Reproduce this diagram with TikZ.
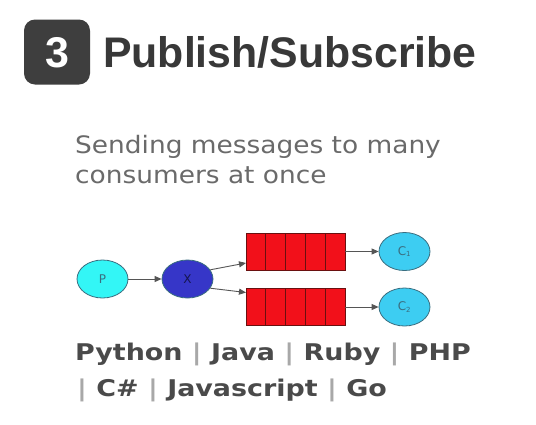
\documentclass[tikz,border=0pt]{standalone}
\usepackage{fontspec}
\setmainfont{DejaVu Sans}
\newfontfamily\titlefont{Liberation Sans}
\newfontfamily\subfont[FakeStretch=1.10]{DejaVu Sans}
\newfontfamily\langfont[FakeStretch=1.17]{DejaVu Sans Bold}
\usetikzlibrary{shapes.geometric,arrows.meta}
\definecolor{badge}{HTML}{3E3E3E}
\definecolor{titlec}{HTML}{383838}
\definecolor{subc}{HTML}{6A6A6A}
\definecolor{langc}{HTML}{4A4A4A}
\definecolor{sepc}{HTML}{A8A8A8}
\definecolor{pfill}{HTML}{33F6F6}
\definecolor{xfill}{HTML}{3636C8}
\definecolor{cfill}{HTML}{3DCDF2}
\definecolor{edgec}{HTML}{3A6E80}
\definecolor{qfill}{HTML}{F2101A}
\definecolor{qline}{HTML}{6A1010}
\definecolor{arrc}{HTML}{555555}
\tikzset{
  elnode/.style={ellipse, draw=edgec, line width=0.8pt, minimum width=51pt, minimum height=38pt, inner sep=0pt, font=\fontsize{12}{12}\selectfont, text=edgec},
  qcell/.style={draw=qline, fill=qfill, line width=1pt, minimum width=19.8pt, minimum height=37pt, inner sep=0pt, outer sep=0pt},
  conn/.style={draw=arrc, line width=0.9pt, -{Triangle[length=7pt,width=6pt]}},
  txt/.style={anchor=base west, inner sep=0pt},
}
\newcommand{\sepbar}{\textcolor{sepc}{|}}
\begin{document}
\begin{tikzpicture}[x=1pt,y=-1pt]
\useasboundingbox[fill=white] (0,0) rectangle (536,424);
% title
\node[fill=badge, rounded corners=11pt, minimum width=66pt, minimum height=65pt, inner sep=0pt] (badge) at (57,52) {};
\node[text=white, font=\titlefont\bfseries\fontsize{43}{43}\selectfont, anchor=base] (num) at (57,67.5) {3};
\node[txt, text=titlec, font=\titlefont\bfseries\fontsize{42.8}{43}\selectfont] (title) at (103,67.5) {Publish/Subscribe};
% subtitle
\node[txt, text=subc, font=\subfont\fontsize{24}{30}\selectfont] (sub1) at (75,153) {Sending messages to many};
\node[txt, text=subc, font=\subfont\fontsize{24}{30}\selectfont] (sub2) at (75,183) {consumers at once};
% diagram
\node[elnode, fill=pfill] (P) at (102.5,279) {P};
\node[elnode, fill=xfill, text=xfill!40!black] (X) at (187.5,279) {X};
\foreach \i in {1,...,5} {
  \node[qcell] (qa\i) at ({246+(\i-0.5)*19.8},251.5) {};
  \node[qcell] (qb\i) at ({246+(\i-0.5)*19.8},307) {};
}
\node[elnode, fill=cfill] (C1) at (404.5,251.5) {C\textsubscript{\scriptsize 1}};
\node[elnode, fill=cfill] (C2) at (404.5,307) {C\textsubscript{\scriptsize 2}};
\draw[conn] (P) -- (X);
\draw[conn] (X.22) -- ([yshift=7pt]qa1.south west);
\draw[conn] (X.-22) -- ([yshift=-4pt]qb1.north west);
\draw[conn] (qa5.east) -- (C1);
\draw[conn] (qb5.east) -- (C2);
% languages
\node[txt, text=langc, font=\langfont\fontsize{23}{23}\selectfont] (lang1) at (75,360) {Python \sepbar{} Java \sepbar{} Ruby \sepbar{} PHP};
\node[txt, text=langc, font=\langfont\fontsize{23}{23}\selectfont] (lang2) at (77,396) {\sepbar{} C\# \sepbar{} Javascript \sepbar{} Go};
\end{tikzpicture}
\end{document}
